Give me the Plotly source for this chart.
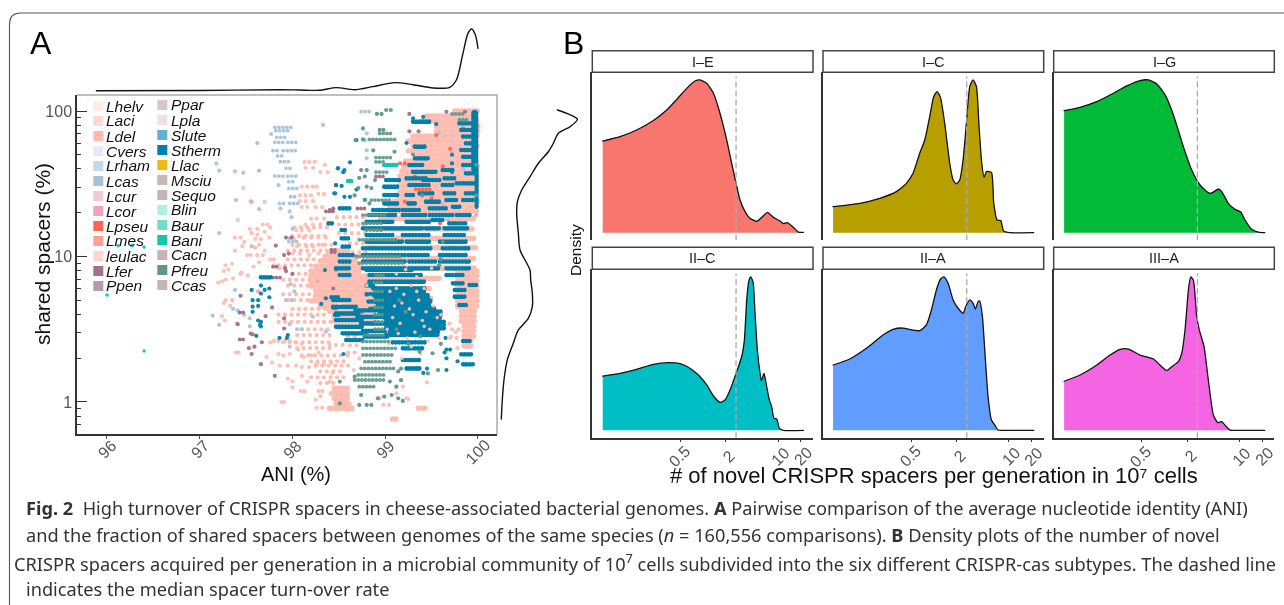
import numpy as np
import plotly.graph_objects as go

W, H = 1284, 605

# ---------- Panel A data: ANI (%) and log10(shared spacers %) ----------
laci_bands = [
 (2.00,99.75,100),(1.966,99.45,100),(1.931,99.40,100),(1.897,99.55,100),(1.863,99.55,100),(1.828,99.30,100),
 (1.794,99.25,100),(1.759,99.30,100),(1.725,99.25,100),(1.691,99.35,100),(1.656,99.22,100),(1.622,99.20,100),
 (1.588,99.18,100),(1.553,99.16,100),(1.519,99.16,100),(1.485,99.16,100),(1.45,99.16,100),(1.416,99.14,100),
 (1.381,99.10,100),(1.347,99.05,100),(1.313,99.05,100),(1.262,98.95,99.98),(1.19,98.9,99.96),(1.125,98.85,99.98),
 (1.06,98.8,99.98),(.987,98.78,99.98),(.92,98.75,99.98),(.85,98.75,99.6),(.78,98.85,99.5),(.71,98.9,99.5),
 (.935,98.25,98.75),(.90,98.2,98.75),(.866,98.2,98.8),(.832,98.2,98.8),(.797,98.2,98.85),(.763,98.25,98.85),
 (.729,98.25,98.9),(.694,98.2,98.9),(.66,98.3,98.5),(.66,98.55,98.9),(.625,98.4,98.9),(.591,98.45,98.95),(.557,98.45,98.9),
 (.97,98.3,98.7),(1.0,98.35,98.7),(1.04,98.42,98.6),
 (.90,99.78,100),(.866,99.78,100),(.832,99.78,100),(.797,99.78,100),(.763,99.78,100),(.729,99.78,100),(.694,99.78,100),(.66,99.78,100),
 (.625,99.82,99.98),(.591,99.82,99.98),(.557,99.82,99.98),(.522,99.85,99.97),(.488,99.85,99.97),(.454,99.85,99.97),(.419,99.85,99.95),(.385,99.85,99.93),
 (.62,99.45,99.6),(.585,99.45,99.6),
 (.094,98.45,98.62),(.06,98.42,98.62),(.025,98.45,98.62),(-.01,98.47,98.62),(-.044,98.40,98.65),
 (-.117,99.08,99.14),(-.043,99.36,99.43),
]
laci_sparse_bands = [
 (1.2,98.02,98.4),(1.14,98.0,98.42),(1.08,98.0,98.42),(1.04,97.95,98.42),(.98,97.95,98.3),(.94,97.85,98.25),(.88,98.0,98.25),
 (.84,97.9,98.2),(.80,97.95,98.2),(.74,97.9,98.25),(.70,97.95,98.25),(.64,98.0,98.4),(.60,97.85,98.4),(.55,97.85,98.45),
 (.50,98.1,98.45),(.46,98.05,98.45),(.41,97.9,98.45),(.37,98.05,98.45),(.32,98.1,98.6),(.28,98.2,98.6),(.25,98.25,98.62),
 (.21,98.3,98.55),(.17,98.2,98.58),(.13,98.3,98.5),(.392,98.4,98.6),(.5,99.72,99.8),(.44,99.7,99.8),(.70,97.28,97.36),
 (.45,98.6,98.72),(.39,98.62,98.72),(.34,98.6,98.7),(1.27,98.48,98.8),(1.22,98.5,98.8),(1.16,98.5,98.8),(1.09,98.62,98.8),
 (1.03,98.65,98.8),
]
laci_ani = [98.13,98.18,98.24,98.35,98.14,98.22,98.30,98.38,97.47,98.10,98.16,98.22,98.26,98.28,98.34,98.08,98.14,98.20,
 97.70,97.55,98.08,98.14,98.22,98.10,98.16,98.25,98.32,97.41,98.20,98.26,98.34,98.14,98.22,98.30,98.38,
 97.54,97.62,97.68,97.73,97.56,97.62,97.70,97.76,98.04,98.10,98.18,97.38,97.44,97.48,97.60,97.66,97.75,98.02,98.12,98.20,98.28,98.36,
 97.46,97.60,97.64,97.38,97.70,98.05,98.15,98.22,98.32,98.42,97.51,97.55,97.62,97.68,97.76,97.80,98.00,98.08,98.18,98.28,98.38,
 97.28,97.26,97.31,97.35,97.45,97.52,97.58,97.64,97.80,97.86,97.24,97.20,97.28,97.36,97.44,
 97.33,97.26,97.24,97.27,97.40,97.76,97.80,97.85,97.92,97.97,98.03,98.10,97.39,97.42,97.72,97.78,97.85,97.90,97.97,98.06,98.12,98.20,98.28,
 97.86,97.95,98.04,98.10,98.18,98.26,98.34,98.42,97.95,98.00,98.10,98.16,98.00,98.09,98.13,98.28,98.32,97.88,97.91,98.25,98.30,98.43,98.40,98.26,98.32,
 99.45,99.23,99.04,98.98,98.94,99.19,99.78,99.76,99.69,99.71,99.25,99.12,98.70,98.75,98.72,98.66]
laci_log = [1.65,1.65,1.65,1.63,1.61,1.61,1.58,1.58,1.47,1.48,1.48,1.48,1.48,1.43,1.43,1.42,1.42,1.42,
 1.375,1.38,1.38,1.38,1.38,1.34,1.34,1.34,1.34,1.25,1.26,1.26,1.26,1.22,1.22,1.22,1.22,
 1.19,1.19,1.22,1.22,1.16,1.15,1.17,1.20,1.18,1.18,1.18,1.13,1.13,1.10,1.12,1.12,1.13,1.12,1.13,1.13,1.13,1.13,
 1.07,1.06,1.08,1.04,1.04,1.07,1.07,1.07,1.08,1.08,1.01,1.01,1.01,1.01,.98,.98,1.02,1.02,1.01,1.02,1.02,
 .94,.90,.91,.95,.89,.87,.93,.96,.94,.92,.83,.82,.84,.85,.88,
 .66,.68,.59,.56,.54,.41,.42,.42,.42,.42,.41,.40,.34,.34,.31,.27,.33,.32,.33,.36,.31,.32,.34,
 .25,.25,.25,.24,.24,.26,.26,.27,.16,.14,.18,.14,.10,.075,.075,.075,.075,0,0,.016,.04,.20,.14,-.04,-.04,
 .135,.025,-.02,-.02,.025,.105,.37,.48,.54,.45,.02,.06,.47,.42,.30,.22]
laci_speck_ani = [99.05,99.12,99.2,99.28,99.34,99.42,99.5,99.1,99.18,99.26,99.36,99.44,99.52,99.6,99.08,99.16,99.3,99.4,99.48,99.56,
 99.02,99.14,99.24,99.32,99.46,99.58,98.8,98.84,99.12,99.22,99.34,99.5,99.04,99.28,99.42,99.38,99.18]
laci_speck_log = [.76,.78,.74,.80,.76,.78,.72,.66,.68,.64,.70,.62,.66,.60,.58,.54,.60,.56,.50,.58,
 .50,.47,.44,.48,.42,.44,.80,.72,.88,.91,.86,.92,.40,.38,.52,.33,.30]

lcas_bands = [(1.888,97.81,98.02),(1.865,97.82,97.97),(1.819,97.83,97.93),(1.785,97.81,97.93),(1.785,97.95,98.04),
 (1.727,97.79,97.86),(1.727,97.90,98.07),(1.691,97.84,97.92),(1.652,97.87,97.99),(1.606,97.93,98.0),(1.553,97.81,97.91),
 (1.553,97.95,98.04),(1.514,97.96,98.04),(1.468,97.96,98.06),(1.411,97.98,98.06),(1.365,97.86,97.93),(1.365,97.97,98.06),
 (1.102,97.96,98.06),(1.995,98.74,98.85)]
lcas_ani = [97.77,98.33,97.18,97.21,97.38,97.47,97.39,97.21,97.14,97.21,97.85,97.87,97.97,97.99,98.00,97.97,97.98,97.38,98.02,97.93,97.99,
 97.36,97.41,97.48,97.54,97.54,97.97,98.05,98.10,98.22,98.36,97.97,98.80,98.78,98.80,98.80,98.54,99.58,99.84,99.68]
lcas_log = [1.842,1.904,1.64,1.59,1.585,1.576,1.388,1.16,.593,.53,1.49,1.33,1.31,1.27,1.19,1.125,.81,.77,.76,.70,.70,
 .64,.63,.60,.575,.52,.535,.50,.50,.586,.483,.38,1.846,1.80,1.73,1.675,1.58,1.85,1.60,1.25]

lfer_bands = [(1.31,98.36,98.45),(1.03,98.42,98.47),(.93,97.79,97.85),(.855,97.79,97.88),(.615,97.43,97.5),(.43,97.43,97.48),
 (1.55,98.9,98.99),(1.526,99.46,99.51),(1.33,98.7,98.78),(1.32,98.4,98.45),(1.045,98.42,98.49)]
lfer_ani = [98.47,98.44,97.93,97.99,97.82,97.91,97.96,97.92,97.93,98.0,98.47,98.44,97.44,97.78,97.71,97.91,97.91,97.41,97.55,97.57,97.67,97.59,97.53,97.56,97.66,97.81,
 99.26,99.26,99.36,99.66,99.86,98.75,98.8,99.02]
lfer_log = [1.49,1.33,1.13,1.13,1.075,1.01,1.02,.92,.90,.88,.91,.78,.73,.65,.59,.575,.505,.535,.47,.465,.41,.38,.37,.33,.26,.18,
 1.98,1.86,1.86,1.995,1.995,.62,.47,.58]

lcor_ani = [97.62,97.64,97.56,97.64,97.56,97.63,98.27,99.98,99.88,99.62]
lcor_log = [1.78,1.59,1.375,1.325,1.07,.76,.83,1.285,.96,1.36]

lpseu_bands = [(1.462,99.33,99.5)]
lpseu_ani = [99.32,99.16,99.21,99.21,99.55,99.84,99.5,99.59,99.7,99.62]
lpseu_log = [1.55,1.64,1.64,1.377,1.835,1.88,1.4,1.23,1.74,1.62]

stherm_bands = [
 (1.927,99.30,99.48),(1.915,99.80,99.98),(1.869,99.82,99.98),(1.824,99.84,99.98),(1.778,99.87,99.98),(1.732,99.82,99.98),(1.686,99.84,99.98),
 (1.755,99.32,99.44),(1.675,99.32,99.48),(1.629,99.26,99.41),(1.583,99.30,99.55),(1.594,99.62,99.73),(1.629,99.84,99.98),(1.572,99.87,99.98),
 (1.526,99.01,99.16),(1.537,99.23,99.44),(1.526,99.41,99.59),(1.537,99.64,99.77),(1.503,99.77,99.84),
 (1.48,98.99,99.14),(1.491,99.26,99.48),(1.491,99.62,99.73),(1.503,99.86,99.98),
 (1.423,98.99,99.16),(1.423,99.23,99.33),(1.434,99.37,99.51),(1.434,99.64,99.75),(1.434,99.87,99.98),
 (1.365,98.99,99.16),(1.365,99.25,99.35),(1.377,99.44,99.59),(1.388,99.66,99.78),(1.388,99.84,99.96),
 (1.32,98.87,99.16),(1.32,99.19,99.37),(1.331,99.48,99.66),(1.342,99.73,99.80),
 (1.331,98.51,98.62),(1.285,98.83,99.12),(1.285,99.19,99.44),(1.285,99.48,99.73),(1.285,99.77,99.91),
 (1.239,98.80,99.08),(1.239,99.23,99.48),(1.251,99.51,99.62),(1.228,99.69,99.87),
 (1.194,98.76,99.19),(1.194,99.19,99.41),(1.194,99.44,99.59),(1.194,99.64,99.91),
 (1.182,98.53,98.58),(1.148,98.80,99.08),(1.148,99.19,99.48),(1.148,99.64,99.87),
 (1.125,98.53,98.62),(1.102,98.80,99.19),(1.102,99.23,99.48),(1.102,99.59,99.87),
 (1.068,98.54,98.63),(1.056,98.76,99.19),(1.056,99.21,99.51),(1.056,99.62,99.91),
 (1.01,98.51,98.65),(1.01,98.76,99.23),(1.01,99.25,99.48),(1.01,99.59,99.89),
 (.965,98.51,98.62),(.965,98.76,99.23),(.965,99.26,99.55),(.965,99.59,99.91),
 (.919,98.47,98.62),(.919,98.76,99.23),(.919,99.26,99.59),(.919,99.66,99.91),
 (.907,98.80,99.30),
 (.873,98.51,98.62),(.873,98.83,99.41),(.873,99.66,99.84),
 (.827,98.83,99.44),(.816,99.73,99.84),
 (.781,98.87,99.44),(.770,99.75,99.87),(.804,99.91,99.98),
 (.701,98.44,98.62),(.735,98.87,99.48),(.724,99.75,99.87),
 (.655,98.44,98.69),(.690,98.90,99.51),(.667,99.80,99.87),
 (.609,98.47,98.72),(.644,98.94,99.55),
 (.564,98.47,98.76),(.598,98.94,99.62),
 (.518,98.47,98.76),(.552,99.01,99.66),
 (.472,98.54,98.80),(.506,99.01,99.66),
 (.426,98.58,98.76),(.461,99.01,99.59),
 (.757,98.9,99.44),(.713,98.9,99.5),(.667,98.92,99.5),(.621,98.94,99.6),(.575,99.0,99.62),(.529,99.01,99.66),(.483,99.05,99.6),
 (.586,98.7,98.98),(.54,98.74,99.0),(.49,98.76,99.01),(.45,98.78,99.05),(.63,98.68,98.96),
 (.80,98.8,98.9),(.74,98.8,98.9),(.69,98.82,98.92),(.64,98.84,98.95),
 (.41,99.08,99.44),(.369,99.19,99.41),(.419,99.84,99.93),(.289,99.19,99.37),(.328,99.82,99.93),(.231,99.23,99.37),(.259,99.84,99.95),
 (.857,97.66,97.79),(1.228,98.39,98.45),(.72,98.42,98.5),(.65,98.44,98.5),(.6,98.46,98.5),
]
stherm_column_ani = [99.965,99.965]
stherm_column_log = [1.60,1.985]
stherm_lower_ani = [99.985,99.985]
stherm_lower_log = [1.34,1.6]
stherm_ani = [98.49,98.46,98.46,98.35,98.36,98.31,97.56,97.66,97.75,97.75,97.70,97.66,97.57,97.63,97.63,97.57,97.57,97.63,97.66,97.65,97.66,97.61,97.86,97.95,97.94,
 98.49,98.62,98.69,98.56,98.47,98.53,98.69,98.78,98.45,98.56,98.62,98.55,99.55,99.23,99.30,99.41,99.65,99.64,
 98.55,99.66,99.70,99.66,99.78,99.66,99.35,99.45,99.41,99.72,99.72,99.72]
stherm_log = [1.606,1.434,1.09,.907,.713,.674,.77,.80,.78,.72,.77,.745,.70,.70,.66,.655,.62,.56,.55,.53,.52,.455,.44,.46,.44,
 1.606,1.647,1.80,1.594,1.49,1.485,1.46,1.39,1.434,1.41,1.41,1.58,1.91,1.78,1.95,1.96,.44,.34,
 .33,.36,.36,.30,.28,.22,.23,.23,.20,1.70,1.64,1.58]

pfreu_bands = [(.76,98.89,98.98),(.70,98.89,98.98),(.65,98.89,98.98),(.60,98.89,98.98),(.55,98.89,98.98),(.50,98.89,98.98),
 (.46,98.78,98.99),(.415,98.76,99.05),(.369,98.76,99.12),(.323,98.76,99.08),(.277,98.78,99.08),(.231,98.74,99.12),
 (.186,98.71,99.01),(.151,98.67,99.01),(.105,98.72,98.90),
 (1.805,98.83,99.12),(1.846,98.94,99.08),(1.68,98.9,99.08),(1.65,98.9,99.0),(1.58,98.9,99.05),(1.388,98.85,99.05),
 (1.285,98.76,99.01),(1.228,98.76,98.99),(1.182,98.8,98.99),(1.115,98.72,99.12),(1.0,98.69,99.19),(.955,98.72,99.19),
 (1.98,99.72,99.87),(1.94,99.80,99.90),(.87,98.9,99.0),(.82,98.88,98.98)]
pfreu_ani = [98.91,98.96,99.01,99.06,98.76,98.94,98.98,98.68,98.76,98.87,99.10,98.74,98.80,98.72,98.78,98.89,98.80,98.85,98.71,98.67,98.78,98.83,
 98.51,98.67,98.74,98.72,98.80,98.85,98.51,98.92,98.99,99.07,99.14,99.19,99.12,99.17,99.05,99.46,99.57,99.51,99.60,99.37,99.14,99.17,
 99.58,99.30,99.62,99.40,99.60,99.15,99.22,99.12,99.25,99.38]
pfreu_log = [1.98,1.98,2.007,2.007,1.88,1.87,1.87,1.80,1.805,1.73,1.72,1.594,1.594,1.54,1.55,1.525,1.48,1.47,1.47,1.42,1.39,1.365,
 .14,.174,.048,-.02,-.02,-.02,-.01,.025,.037,.048,.025,.007,.105,.15,.14,.197,.22,.335,.40,.346,.21,.23,
 .94,1.7,1.1,1.42,.98,.7,.62,.5,.4,.45]

bani_bands = [(1.629,98.99,99.14),(1.519,98.60,98.65)]
bani_ani = [96.12,96.27,96.40,96.0,96.40,99.98,99.98]
bani_log = [1.074,1.074,1.065,.735,.35,1.63,1.42]

ani_ticks = [96, 97, 98, 99, 100]

# ---------- Marginal densities of panel A ----------
top_ani = [95.886,96.998,97.861,98.077,98.292,98.473,98.670,98.867,99.101,99.299,99.515,99.695,99.767,99.838,99.892,99.932,99.972,100.0]
top_density = [0,.002,.016,.011,.006,.049,.016,.065,.130,.097,.044,.055,.173,.606,.930,1.0,.903,.687]
right_density = [.737,.860,1.0,.904,.750,.684,.618,.487,.377,.268,.211,.202,.224,.246,.377,.386,.408,.408,.355,.224,.158,.079,.035,.013,0]
right_log = [2.007,1.984,1.943,1.892,1.847,1.778,1.720,1.641,1.548,1.457,1.377,1.297,1.159,1.045,.907,.838,.747,.655,.575,.495,.404,.289,.151,.014,-.117]

# ---------- Legend ----------
legend_col1 = ["Lhelv","Laci","Ldel","Cvers","Lrham","Lcas","Lcur","Lcor","Lpseu","Lmes","leulac","Lfer","Ppen"]
legend_col1_colors = ["#FDEBE8","#FED8D2","#FFB9AD","#E3ECF4","#C5D8E8","#A9C0D9","#F3C9DC","#EAA5BF","#FF6651","#FFA091","#FFD5D0","#A37188","#B899AC"]
legend_col2 = ["Ppar","Lpla","Slute","Stherm","Llac","Msciu","Sequo","Blin","Baur","Bani","Cacn","Pfreu","Ccas"]
legend_col2_colors = ["#D8C4CF","#ECDFE6","#66B0CF","#0080A8","#EFB90F","#C5BBB3","#C5B5B3","#B3EDE2","#72DDCF","#16C4AD","#C5B5B5","#5E9688","#C5B5B5"]

# ---------- Panel B: log10(novel spacers) and scaled density ----------
subtypes = ["I–E","I–C","I–G","II–C","II–A","III–A"]
colors = ["#F8766D","#B79F00","#00BA38","#00BFC4","#619CFF","#F564E3"]
medians_log = [.439,.439,.439,.439,.439,.439]
tick_values = [0.5,2,10,20]
tick_labels = ["0.5","2","10","20"]

ie_log = [-1.339,-1.108,-.886,-.663,-.486,-.352,-.219,-.108,-.041,.048,.137,.225,.314,.381,.439,.492,.559,.625,.714,.781,.857,.937,1.025,1.07,1.123,1.203,1.27,1.337]
ie_den = [.6,.629,.672,.734,.803,.873,.945,.993,1.0,.978,.913,.782,.607,.454,.323,.214,.138,.094,.074,.1,.133,.1,.076,.059,.066,.035,.004,.002]
ic_log = [-1.344,-.988,-.722,-.499,-.366,-.277,-.188,-.121,-.055,-.001,.043,.088,.145,.212,.257,.301,.345,.39,.434,.479,.523,.568,.603,.639,.67,.701,.768,.799,.843,.892,.932,1.012,1.332]
ic_den = [.17,.192,.225,.269,.323,.389,.52,.607,.76,.891,.924,.886,.716,.454,.345,.319,.345,.476,.716,.956,1.0,.956,.694,.454,.362,.4,.395,.192,.083,.079,.009,0,0]
ig_log = [-1.339,-1.126,-.903,-.681,-.503,-.326,-.215,-.103,.008,.119,.252,.363,.474,.599,.652,.719,.763,.852,.941,1.017,1.074,1.163,1.252,1.337]
ig_den = [.799,.821,.858,.913,.961,.996,1.0,.974,.902,.771,.563,.41,.312,.258,.266,.286,.269,.192,.153,.135,.083,.022,.004,0]
iic_log = [-1.339,-1.108,-.886,-.663,-.463,-.308,-.197,-.063,.048,.137,.225,.292,.359,.439,.514,.55,.581,.608,.634,.665,.692,.723,.759,.777,.812,.839,.883,.914,.945,.981,1.017,1.07,1.337]
iic_den = [.354,.372,.398,.43,.441,.435,.411,.361,.296,.224,.183,.198,.263,.372,.48,.589,.85,.97,1.0,.97,.763,.524,.372,.324,.372,.307,.198,.154,.078,.074,.013,0,0]
iia_log = [-1.344,-1.122,-.899,-.678,-.544,-.411,-.278,-.188,-.099,-.032,.034,.088,.132,.19,.257,.323,.39,.434,.479,.523,.554,.59,.612,.648,.679,.723,.768,.812,.857,1.012,1.332]
iia_den = [.426,.465,.535,.622,.659,.667,.654,.65,.687,.785,.915,.985,1.0,.959,.85,.796,.763,.817,.85,.828,.791,.839,.843,.741,.524,.22,.067,.035,.002,0,0]
iiia_log = [-1.339,-1.126,-.903,-.726,-.592,-.481,-.326,-.148,-.037,.03,.097,.185,.23,.274,.319,.35,.385,.43,.465,.528,.585,.652,.71,.763,.83,.874,1.008,1.337]
iiia_den = [.32,.361,.426,.491,.528,.53,.491,.465,.415,.389,.415,.448,.502,.654,.915,1.0,.98,.741,.654,.546,.328,.1,.05,.057,.02,.002,0,0]
curves = [(ie_log,ie_den),(ic_log,ic_den),(ig_log,ig_den),(iic_log,iic_den),(iia_log,iia_den),(iiia_log,iiia_den)]

caption_lines = [
 "<b>Fig. 2</b>  High turnover of CRISPR spacers in cheese-associated bacterial genomes. <b>A</b> Pairwise comparison of the average nucleotide identity (ANI)",
 "and the fraction of shared spacers between genomes of the same species (<i>n</i> = 160,556 comparisons). <b>B</b> Density plots of the number of novel",
 "CRISPR spacers acquired per generation in a microbial community of 10<sup>7</sup> cells subdivided into the six different CRISPR-cas subtypes. The dashed line",
 "indicates the median spacer turn-over rate",
]

# ---------- helpers ----------
def X(px): return px / W
def Y(py): return 1 - py / H
def domx(a, b): return [a / W, b / W]
def domy(top, bottom): return [1 - bottom / H, 1 - top / H]

fig = go.Figure()
shapes, annotations = [], []

def bands(rows, color, width=4.4, gap=3.4, opacity=1.0):
    xs, ys = [], []
    for l, a0, a1 in rows:
        xs += [a0, a1, None]
        ys += [10 ** l, 10 ** l, None]
    fig.add_trace(go.Scatter(x=xs, y=ys, mode="lines", line=dict(color=color, width=width, dash=f"0px,{gap}px"),
                             opacity=opacity, hoverinfo="skip", showlegend=False, connectgaps=False))

def dots(ani, lg, color, size=4.2, opacity=.95):
    fig.add_trace(go.Scatter(x=ani, y=[10 ** v for v in lg], mode="markers", opacity=opacity,
                             marker=dict(color=color, size=size, line=dict(width=0)),
                             hoverinfo="skip", showlegend=False))

PINK, LB, MAROON, TEAL, BLUE, GREEN = "#FFBDB2", "#A9C6DC", "#A37188", "#16C4AD", "#0080A8", "#5E9688"
bands(laci_bands, PINK, 5.6, 3.2)
bands(laci_sparse_bands, PINK, 4.2, 6.5)
dots(laci_ani, laci_log, PINK)
bands(lcas_bands, LB, 3.8, 4)
dots(lcas_ani, lcas_log, LB)
dots(lcor_ani, lcor_log, "#EAA5BF")
bands(lfer_bands, MAROON, 3.8, 3.5)
dots(lfer_ani, lfer_log, MAROON)
bands(lpseu_bands, "#FF6651", 3.8, 3.5)
dots(lpseu_ani, lpseu_log, "#FF6651")
bands(stherm_bands, BLUE, 4.6, 3.2)
fig.add_trace(go.Scatter(x=stherm_column_ani, y=[10 ** v for v in stherm_column_log], mode="lines",
                         line=dict(color=BLUE, width=7), hoverinfo="skip", showlegend=False))
fig.add_trace(go.Scatter(x=stherm_lower_ani, y=[10 ** v for v in stherm_lower_log], mode="lines",
                         line=dict(color=BLUE, width=4), hoverinfo="skip", showlegend=False))
dots(stherm_ani, stherm_log, BLUE)
dots(laci_speck_ani, laci_speck_log, PINK, 3.6)
bands(pfreu_bands, GREEN, 3.8, 3.6, .9)
dots(pfreu_ani, pfreu_log, GREEN)
bands(bani_bands, TEAL, 4.6, 3)
dots(bani_ani, bani_log, TEAL, 3.6)

# marginal densities
fig.add_trace(go.Scatter(x=top_ani, y=top_density, mode="lines", xaxis="x", yaxis="y2",
                         line=dict(color="#111", width=1.4, shape="spline", smoothing=.8),
                         hoverinfo="skip", showlegend=False))
fig.add_trace(go.Scatter(x=right_density, y=[10 ** v for v in right_log], mode="lines", xaxis="x2", yaxis="y3",
                         line=dict(color="#111", width=1.4, shape="spline", smoothing=.8),
                         hoverinfo="skip", showlegend=False))

layout = dict(
    width=W, height=H, margin=dict(l=0, r=0, t=0, b=0), paper_bgcolor="white", plot_bgcolor="white",
    showlegend=False, font=dict(family="Liberation Sans", color="#222"),
    xaxis=dict(domain=domx(77, 497), range=[95.677, 100.205], anchor="y", tickvals=ani_ticks, showticklabels=False,
               ticks="outside", ticklen=3, tickcolor="#555", showgrid=False, zeroline=False,
               showline=True, linecolor="#333", linewidth=1.5),
    yaxis=dict(domain=domy(95, 434), type="log", range=[-0.22, 2.11], anchor="x", tickvals=[1, 10, 100],
               ticktext=["1", "10", "100"], ticks="inside", ticklen=10, tickcolor="#333", showgrid=False, zeroline=False,
               showline=True, linecolor="#333", linewidth=1.5, tickfont=dict(size=16, color="#555"),
               minor=dict(tickvals=[.7, .8, .9, 2, 3, 4, 5, 6, 7, 8, 9, 20, 30, 40, 50, 60, 70, 80, 90],
                          ticks="inside", ticklen=4, tickcolor="#333")),
    yaxis2=dict(domain=domy(25, 95), range=[-.07, 1.065], anchor="x", visible=False),
    xaxis2=dict(domain=domx(495, 585), range=[-.083, 1.10], anchor="y3", visible=False),
    yaxis3=dict(domain=domy(95, 434), type="log", range=[-0.22, 2.11], anchor="x2", visible=False),
)

for t in ani_ticks:
    annotations.append(dict(text=str(t), xref="x", yref="paper", x=t, y=Y(449 if t != 100 else 451), xanchor="center", yanchor="middle",
                            showarrow=False, textangle=-45, font=dict(size=16, color="#555")))

# panel A outer grey top/right border
shapes.append(dict(type="path", xref="paper", yref="paper",
    path=f"M {X(77)} {Y(95)} L {X(497)} {Y(95)} L {X(497)} {Y(434)}", line=dict(color="#AAAAAA", width=1.5)))

# outer rounded border
shapes.append(dict(type="path", xref="paper", yref="paper",
    path=f"M {X(9.5)} {Y(605)} L {X(9.5)} {Y(24)} Q {X(9.5)} {Y(13)} {X(20.5)} {Y(13)} L {X(1284)} {Y(13)}",
    line=dict(color="#555555", width=1.1)))

# legend
for col, cols, sx, tx, ys in [(legend_col1, legend_col1_colors, 93.3, 104, [106 + 15 * i for i in range(13)]),
                              (legend_col2, legend_col2_colors, 157.3, 168.5, [105 + 15 * i for i in range(13)])]:
    for name, c, yy in zip(col, cols, ys):
        shapes.append(dict(type="rect", xref="paper", yref="paper", x0=X(sx), x1=X(sx + 10), y0=Y(yy + 5), y1=Y(yy - 5),
                           fillcolor=c, line=dict(width=0)))
        annotations.append(dict(text=f"<i>{name}</i>", xref="paper", yref="paper", x=X(tx), y=Y(yy), xanchor="left",
                                yanchor="middle", showarrow=False, font=dict(size=15.5, color="#111")))

# facets
lefts = [592.3, 823, 1053.7]
rights = [813, 1043.7, 1274.3]
rows_geo = [(50.7, 72.3, 240), (247.3, 269.3, 437.7)]
tick_shift = [-1.5, 3, 2, 2]
for i, (sub, col, med, (lg, den)) in enumerate(zip(subtypes, colors, medians_log, curves)):
    r, c = divmod(i, 3)
    top, sb, bottom = rows_geo[r]
    xn, yn = f"x{i + 3}", f"y{i + 4}"
    xk, yk = f"xaxis{i + 3}", f"yaxis{i + 4}"
    lx, rx = lefts[c], rights[c]
    layout[xk] = dict(domain=domx(lx, rx), type="log", range=[-1.478, 1.465], anchor=yn, showgrid=False, zeroline=False,
                      tickvals=tick_values if r == 1 else [], showticklabels=False,
                      ticks="outside" if r == 1 else "", ticklen=3, tickcolor="#333",
                      showline=r == 1, linecolor="#333", linewidth=1.5)
    layout[yk] = dict(domain=domy(sb, bottom), range=[-.048, 1.05], anchor=xn, showgrid=False, zeroline=False,
                      showticklabels=False, ticks="", showline=True, linecolor="#333", linewidth=1.5)
    if r == 1:
        for tv, tl, sh in zip(tick_values, tick_labels, tick_shift):
            annotations.append(dict(text=tl, xref=xn, yref="paper", x=float(np.log10(tv)), y=Y(456), xshift=sh,
                                    xanchor="center", yanchor="middle", showarrow=False, textangle=-45,
                                    font=dict(size=16, color="#555")))
    fig.add_trace(go.Scatter(x=[10 ** v for v in lg], y=den, mode="lines", xaxis=xn, yaxis=yn, fill="tozeroy", fillcolor=col,
                             line=dict(color="#111", width=1.3, shape="spline", smoothing=.55),
                             hoverinfo="skip", showlegend=False))
    fig.add_trace(go.Scatter(x=[10 ** med, 10 ** med], y=[-.048, 1.02], mode="lines", xaxis=xn, yaxis=yn,
                             line=dict(color="#AAAAAA", width=1.3, dash="5px,4px"), hoverinfo="skip", showlegend=False))
    shapes.append(dict(type="rect", xref="paper", yref="paper", x0=X(lx), x1=X(rx), y0=Y(sb), y1=Y(top),
                       fillcolor="white", line=dict(color="#444444", width=1.5)))
    annotations.append(dict(text=sub, xref="paper", yref="paper", x=X((lx + rx) / 2), y=Y((top + sb) / 2), xanchor="center",
                            yanchor="middle", showarrow=False, font=dict(size=14.5, color="#222")))

# titles and panel letters
def note(text, x, y, size, color="#111", angle=0, xanchor="center", family="Liberation Sans"):
    annotations.append(dict(text=text, xref="paper", yref="paper", x=X(x), y=Y(y), xanchor=xanchor, yanchor="middle",
                            showarrow=False, textangle=angle, font=dict(size=size, color=color, family=family)))

note("A", 41, 43, 32, "#000")
note("B", 573, 43, 32, "#000")
note("shared spacers (%)", 42, 254, 21, angle=-90)
note("ANI (%)", 296, 474, 20)
note("Density", 576, 250, 15.5, angle=-90)
note("# of novel CRISPR spacers per generation in 10⁷ cells", 934, 475, 22)

for text, x, y in zip(caption_lines, [24, 24, 12, 24], [508, 535, 562, 589]):
    note(text, x, y, 18.2, "#333", xanchor="left", family="Noto Sans")

layout["shapes"] = shapes
layout["annotations"] = annotations
fig.update_layout(**layout)
fig.write_html("out.html", config={"displayModeBar": False},
               post_script="document.body.style.margin='0';document.body.style.overflow='hidden';"
                           "var s=document.createElement('style');s.textContent='.js-line{stroke-linecap:round}';document.head.appendChild(s);")
